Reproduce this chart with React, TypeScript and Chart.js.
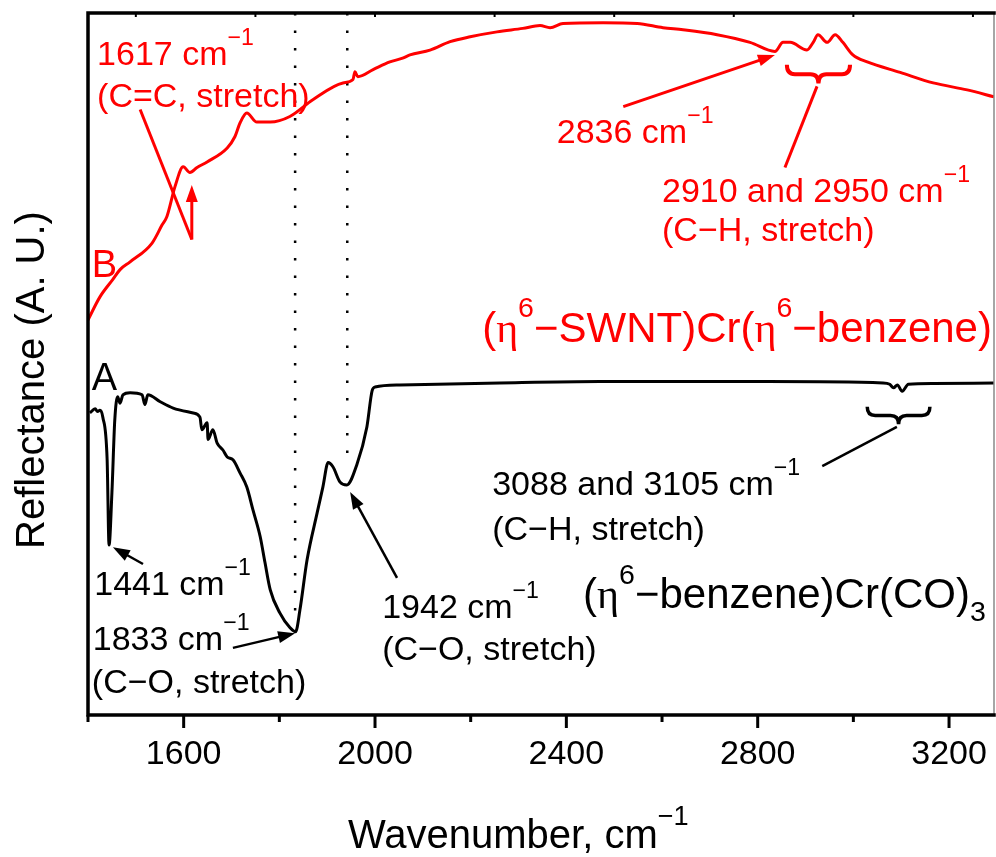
import { useEffect, useRef } from "react";
import { Chart, registerables } from "chart.js";
Chart.register(...registerables);

// ---- data ----
const bWavenumber = [1400, 1425, 1452, 1467, 1488, 1534, 1555, 1565, 1582, 1599, 1613, 1628, 1649, 1691, 1707, 1718, 1732, 1753, 1781, 1822, 1870, 1933, 1954, 1958, 1964, 1996, 2031, 2056, 2073, 2115, 2157, 2199, 2255, 2309, 2345, 2366, 2393, 2477, 2548, 2602, 2644, 2715, 2784, 2836, 2853, 2868, 2903, 2916, 2926, 2945, 2962, 2978, 2999, 3029, 3098, 3167, 3238, 3294];
const bReflectance = [56.2, 59.5, 62.0, 63.4, 64.5, 67.2, 69.8, 71.0, 75.3, 78.1, 77.3, 78.0, 78.8, 80.8, 82.4, 84.4, 85.8, 84.5, 84.5, 85.3, 87.7, 90.1, 90.6, 91.7, 91.0, 92.0, 93.1, 93.6, 94.1, 94.8, 96.0, 96.7, 97.4, 97.9, 98.3, 98.0, 98.6, 98.7, 98.6, 98.0, 97.7, 97.0, 95.9, 94.6, 95.9, 95.9, 94.8, 95.9, 97.0, 95.9, 97.0, 95.9, 94.1, 93.1, 91.6, 90.1, 89.1, 88.1];

const aWavenumber = [1404, 1415, 1420, 1425, 1431, 1440, 1444, 1450, 1456, 1462, 1467, 1473, 1488, 1513, 1519, 1525, 1551, 1578, 1620, 1634, 1638, 1649, 1651, 1661, 1670, 1682, 1691, 1703, 1718, 1732, 1745, 1760, 1770, 1781, 1801, 1822, 1834, 1843, 1858, 1879, 1891, 1902, 1912, 1927, 1941, 1962, 1983, 1994, 2000, 2052, 2261, 2470, 2820, 3062, 3076, 3084, 3092, 3102, 3115, 3167, 3294];
const aReflectance = [42.9, 43.5, 43.1, 43.3, 42.3, 36.2, 24.0, 31.5, 41.9, 45.2, 44.3, 45.5, 45.8, 45.5, 44.1, 45.5, 44.5, 43.6, 42.9, 42.3, 40.5, 41.5, 39.1, 40.5, 38.6, 37.6, 36.6, 36.2, 34.3, 32.3, 29.0, 25.2, 21.5, 17.6, 14.3, 12.2, 11.6, 14.7, 21.9, 28.6, 32.3, 35.8, 35.2, 33.0, 32.6, 35.5, 40.9, 46.1, 46.6, 46.9, 47.2, 47.4, 47.4, 47.2, 47.0, 46.5, 46.9, 46.0, 47.0, 47.1, 47.2];

const markerWavenumbers = [1833, 1942];
const markerBottoms = [14, 35.2];

const xMajorTicks = [1600, 2000, 2400, 2800, 3200];
const xMinorTicks = [1400, 1800, 2200, 2600, 3000];
const topAxisTicks = [1500, 1750, 2000, 2250, 2500, 2750, 3000, 3250];

const X_MIN = 1400;
const X_MAX = 3294;
const Y_MIN = -0.3;
const Y_MAX = 100.1;

const RED = "#ff0000";
const BLACK = "#000000";
const SANS = '"Liberation Sans", Arial, Helvetica, sans-serif';
const SERIF = '"Liberation Serif", "Times New Roman", serif';

type Part = { t: string; sup?: boolean; sub?: boolean; serif?: boolean };
type TextNote = { x: number; y: number; size: number; color: string; parts: Part[] };

const cm = (v: string): Part[] => [{ t: v + " cm" }, { t: "\u22121", sup: true }];

const textNotes: TextNote[] = [
  { x: 1419, y: 92.7, size: 34, color: RED, parts: cm("1617") },
  { x: 1419, y: 86.7, size: 34, color: RED, parts: [{ t: "(C=C, stretch)" }] },
  { x: 1408, y: 62.4, size: 38, color: RED, parts: [{ t: "B" }] },
  { x: 2380, y: 81.5, size: 34, color: RED, parts: cm("2836") },
  { x: 2600, y: 73.1, size: 34, color: RED, parts: cm("2910 and 2950") },
  { x: 2600, y: 67.5, size: 34, color: RED, parts: [{ t: "(C\u2212H, stretch)" }] },
  {
    x: 2224, y: 53.1, size: 42, color: RED,
    parts: [{ t: "(" }, { t: "\u03b7", serif: true }, { t: "6", sup: true }, { t: "\u2212SWNT)Cr(" }, { t: "\u03b7", serif: true }, { t: "6", sup: true }, { t: "\u2212benzene)" }],
  },
  { x: 1408, y: 46.2, size: 38, color: BLACK, parts: [{ t: "A" }] },
  { x: 1413, y: 16.9, size: 34, color: BLACK, parts: cm("1441") },
  { x: 1410, y: 9.0, size: 34, color: BLACK, parts: cm("1833") },
  { x: 1408, y: 2.9, size: 34, color: BLACK, parts: [{ t: "(C\u2212O, stretch)" }] },
  { x: 2015, y: 13.6, size: 34, color: BLACK, parts: cm("1942") },
  { x: 2015, y: 7.6, size: 34, color: BLACK, parts: [{ t: "(C\u2212O, stretch)" }] },
  { x: 2245, y: 31.2, size: 34, color: BLACK, parts: cm("3088 and 3105") },
  { x: 2245, y: 24.7, size: 34, color: BLACK, parts: [{ t: "(C\u2212H, stretch)" }] },
  {
    x: 2435, y: 15.0, size: 42, color: BLACK,
    parts: [{ t: "(" }, { t: "\u03b7", serif: true }, { t: "6", sup: true }, { t: "\u2212benzene)Cr(CO)" }, { t: "3", sub: true }],
  },
];

type Leader = { x0: number; y0: number; x1: number; y1: number; color: string; width: number; head: boolean };
const leaders: Leader[] = [
  { x0: 1509, y0: 86.3, x1: 1617, y1: 67.7, color: RED, width: 3, head: false },
  { x0: 1617, y0: 67.7, x1: 1617, y1: 75.5, color: RED, width: 3, head: true },
  { x0: 2519, y0: 86.7, x1: 2836, y1: 94.1, color: RED, width: 3, head: true },
  { x0: 2924, y0: 89.6, x1: 2857, y1: 78.0, color: RED, width: 3, head: false },
  { x0: 1515, y0: 21.3, x1: 1452, y1: 23.7, color: BLACK, width: 2.5, head: true },
  { x0: 1703, y0: 9.3, x1: 1833, y1: 11.4, color: BLACK, width: 2.5, head: true },
  { x0: 2046, y0: 19.3, x1: 1948, y1: 31.6, color: BLACK, width: 2.5, head: true },
  { x0: 2935, y0: 35.3, x1: 3091, y1: 40.9, color: BLACK, width: 2.5, head: false },
];

type Brace = { xa: number; xb: number; yTop: number; yBot: number; color: string; width: number };
const braces: Brace[] = [
  { xa: 2861, xb: 2993, yTop: 92.7, yBot: 90.0, color: RED, width: 4 },
  { xa: 3029, xb: 3160, yTop: 43.8, yBot: 41.3, color: BLACK, width: 3.5 },
];

function drawRich(ctx: CanvasRenderingContext2D, parts: Part[], x: number, y: number, size: number, color: string) {
  ctx.fillStyle = color;
  ctx.textAlign = "left";
  ctx.textBaseline = "alphabetic";
  let cx = x;
  for (const p of parts) {
    const s = p.sup || p.sub ? size * 0.68 : size;
    ctx.font = `${s}px ${p.serif ? SERIF : SANS}`;
    const dy = p.sup ? -size * 0.58 : p.sub ? size * 0.3 : 0;
    ctx.fillText(p.t, cx, y + dy);
    cx += ctx.measureText(p.t).width;
  }
}

const decorPlugin = {
  id: "decor",
  afterDraw(chart: any) {
    const ctx: CanvasRenderingContext2D = chart.ctx;
    const xs = chart.scales.x;
    const ys = chart.scales.y;
    const { left, right, top, bottom } = chart.chartArea;
    ctx.save();

    // frame
    ctx.strokeStyle = "#888";
    ctx.lineWidth = 1.5;
    ctx.beginPath();
    ctx.moveTo(right, top);
    ctx.lineTo(right, bottom);
    ctx.stroke();
    ctx.strokeStyle = BLACK;
    ctx.lineWidth = 3.5;
    ctx.lineCap = "square";
    ctx.beginPath();
    ctx.moveTo(left, bottom);
    ctx.lineTo(left, top);
    ctx.lineTo(right, top);
    ctx.moveTo(left, bottom);
    ctx.lineTo(right, bottom);
    ctx.stroke();
    ctx.lineCap = "butt";

    // bottom ticks
    ctx.lineWidth = 3;
    for (const v of xMajorTicks) {
      const px = xs.getPixelForValue(v);
      ctx.beginPath();
      ctx.moveTo(px, bottom);
      ctx.lineTo(px, bottom + 13);
      ctx.stroke();
    }
    for (const v of xMinorTicks) {
      const px = xs.getPixelForValue(v);
      ctx.beginPath();
      ctx.moveTo(px, bottom);
      ctx.lineTo(px, bottom + 7);
      ctx.stroke();
    }
    // top axis small ticks
    ctx.lineWidth = 2;
    for (const v of topAxisTicks) {
      const px = xs.getPixelForValue(v);
      ctx.beginPath();
      ctx.moveTo(px, top);
      ctx.lineTo(px, top + 4);
      ctx.stroke();
    }

    // leaders & arrows
    for (const l of leaders) {
      const x0 = xs.getPixelForValue(l.x0), y0 = ys.getPixelForValue(l.y0);
      const x1 = xs.getPixelForValue(l.x1), y1 = ys.getPixelForValue(l.y1);
      ctx.strokeStyle = l.color;
      ctx.fillStyle = l.color;
      ctx.lineWidth = l.width;
      const ang = Math.atan2(y1 - y0, x1 - x0);
      const hl = 17, hw = 6;
      const ex = l.head ? x1 - Math.cos(ang) * (hl - 2) : x1;
      const ey = l.head ? y1 - Math.sin(ang) * (hl - 2) : y1;
      ctx.beginPath();
      ctx.moveTo(x0, y0);
      ctx.lineTo(ex, ey);
      ctx.stroke();
      if (l.head) {
        const bx = x1 - Math.cos(ang) * hl, by = y1 - Math.sin(ang) * hl;
        ctx.beginPath();
        ctx.moveTo(x1, y1);
        ctx.lineTo(bx + Math.sin(ang) * hw, by - Math.cos(ang) * hw);
        ctx.lineTo(bx - Math.sin(ang) * hw, by + Math.cos(ang) * hw);
        ctx.closePath();
        ctx.fill();
      }
    }

    // braces
    for (const b of braces) {
      const xa = xs.getPixelForValue(b.xa), xb = xs.getPixelForValue(b.xb);
      const yt = ys.getPixelForValue(b.yTop), yb = ys.getPixelForValue(b.yBot);
      const ym = (yt + yb) / 2;
      const xm = (xa + xb) / 2;
      const q = 8;
      ctx.strokeStyle = b.color;
      ctx.lineWidth = b.width;
      ctx.beginPath();
      ctx.moveTo(xa, yt);
      ctx.quadraticCurveTo(xa, ym, xa + q, ym);
      ctx.lineTo(xm - q, ym);
      ctx.quadraticCurveTo(xm, ym, xm, yb);
      ctx.quadraticCurveTo(xm, ym, xm + q, ym);
      ctx.lineTo(xb - q, ym);
      ctx.quadraticCurveTo(xb, ym, xb, yt);
      ctx.stroke();
    }

    // texts
    for (const n of textNotes) {
      drawRich(ctx, n.parts, xs.getPixelForValue(n.x), ys.getPixelForValue(n.y), n.size, n.color);
    }

    // axis titles
    drawRich(ctx, [{ t: "Wavenumber, cm" }, { t: "\u22121", sup: true }], 348, 848, 40, BLACK);
    ctx.save();
    ctx.translate(33, 380);
    ctx.rotate(-Math.PI / 2);
    ctx.fillStyle = BLACK;
    ctx.font = `40px ${SANS}`;
    ctx.textAlign = "center";
    ctx.textBaseline = "middle";
    ctx.fillText("Reflectance (A. U.)", 0, 0);
    ctx.restore();

    ctx.restore();
  },
};

export default function App() {
  const ref = useRef<HTMLCanvasElement | null>(null);
  useEffect(() => {
    document.body.style.margin = "0";
    const canvas = ref.current;
    if (!canvas) return;
    const datasets: any[] = [
      {
        data: bWavenumber.map((x, i) => ({ x, y: bReflectance[i] })),
        borderColor: RED, borderWidth: 3, pointRadius: 0, fill: false,
        cubicInterpolationMode: "monotone",
      },
      {
        data: aWavenumber.map((x, i) => ({ x, y: aReflectance[i] })),
        borderColor: BLACK, borderWidth: 3, pointRadius: 0, fill: false,
        cubicInterpolationMode: "monotone",
      },
      ...markerWavenumbers.map((w, i) => ({
        data: [{ x: w, y: Y_MAX }, { x: w, y: markerBottoms[i] }],
        borderColor: BLACK, borderWidth: 2.5, borderDash: [2.5, 15], borderCapStyle: "butt",
        pointRadius: 0, fill: false, tension: 0,
      })),
    ];
    const chart = new Chart(canvas, {
      type: "line",
      data: { datasets },
      options: {
        animation: false,
        responsive: false,
        devicePixelRatio: 1,
        layout: { padding: { left: 88, right: 2, top: 13, bottom: 0 } },
        plugins: { legend: { display: false }, tooltip: { enabled: false }, title: { display: false } },
        scales: {
          x: {
            type: "linear", position: "bottom", min: X_MIN, max: X_MAX,
            afterFit: (s: any) => { s.height = 142; s.paddingLeft = 0; s.paddingRight = 0; },
            grid: { display: false, drawTicks: false },
            border: { display: false },
            ticks: {
              stepSize: 200, includeBounds: false, autoSkip: false, maxRotation: 0, minRotation: 0, padding: 19,
              color: BLACK, font: { family: SANS, size: 34 },
              callback: (v: any) => (xMajorTicks.includes(Number(v)) ? String(v) : ""),
            },
          },
          y: { type: "linear", display: false, min: Y_MIN, max: Y_MAX },
        },
      },
      plugins: [decorPlugin],
    } as any);
    return () => chart.destroy();
  }, []);
  return (
    <div style={{ width: 996, height: 857, background: "#fff" }}>
      <canvas ref={ref} width={996} height={857} style={{ display: "block" }} />
    </div>
  );
}
